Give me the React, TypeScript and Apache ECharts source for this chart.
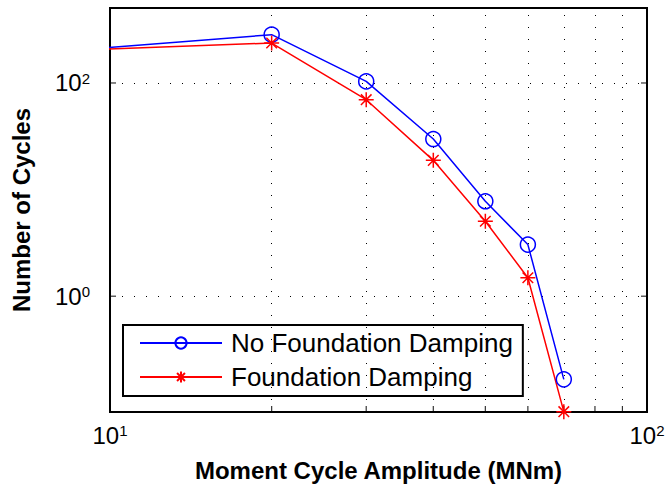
import React, { useEffect, useRef } from "react";
import * as echarts from "echarts";

// Data (log-log)
const amplitudes = [5, 20, 30, 40, 50, 60, 70];
const noFoundationDamping = [164, 284, 103.5, 29.8, 7.77, 3.05, 0.166];
const foundationDamping = [183, 237, 69.7, 18.8, 5.05, 1.49, 0.0826];
const seriesNames = ["No Foundation Damping", "Foundation Damping"];

const xMin = 10;
const xMax = 100;
const yMin = 0.082;
const yMax = 505;
const xMinorGrid = [20, 30, 40, 50, 60, 70, 80, 90];
const yMajorGrid = [1, 100];
const xLabelExponents = [1, 2];
const yLabelExponents = [0, 2];

const FONT = "'Liberation Sans', Arial, sans-serif";
const STAR =
  "path://M0,-1L0,1M-1,0L1,0M-0.707,-0.707L0.707,0.707M-0.707,0.707L0.707,-0.707";

const rich = {
  base: { fontSize: 24, fontFamily: FONT, color: "#000", lineHeight: 24, verticalAlign: "bottom" as const },
  sup: { fontSize: 15, fontFamily: FONT, color: "#000", lineHeight: 15, verticalAlign: "top" as const, padding: [0, 0, 16, 0] },
};

function powLabel(exps: number[]) {
  return (v: number) => {
    const e = Math.log10(v);
    const r = Math.round(e);
    if (Math.abs(e - r) < 1e-6 && exps.includes(r)) return `{base|10}{sup|${r}}`;
    return "";
  };
}

export default function App() {
  const ref = useRef<HTMLDivElement>(null);
  useEffect(() => {
    if (!ref.current) return;
    const chart = echarts.init(ref.current, null, { renderer: "svg" });
    const tickStyle = { color: "#000" };
    chart.setOption({
      animation: false,
      backgroundColor: "#fff",
      grid: {
        left: 110,
        top: 8,
        right: 22,
        bottom: 82,
        show: true,
        borderColor: "#000",
        borderWidth: 2,
        backgroundColor: "#fff",
      },
      legend: {
        data: seriesNames,
        orient: "vertical",
        left: 123,
        top: 325,
        itemWidth: 82,
        itemHeight: 14,
        itemGap: 8,
        padding: [5, 10, 6, 16],
        borderColor: "#000",
        borderWidth: 2,
        backgroundColor: "#fff",
        textStyle: { fontSize: 26, fontFamily: FONT, color: "#000", lineHeight: 26, padding: [0, 0, 0, 4] },
      },
      xAxis: {
        type: "log",
        logBase: 10,
        min: xMin,
        max: xMax,
        name: "Moment Cycle Amplitude (MNm)",
        nameLocation: "middle",
        nameGap: 43,
        nameTextStyle: { fontSize: 24, fontWeight: "bold", fontFamily: FONT, color: "#000" },
        axisLine: { show: false },
        axisTick: { show: false },
        splitLine: { show: false },
        axisLabel: {
          margin: 11,
          fontSize: 24,
          fontFamily: FONT,
          color: "#000",
          formatter: powLabel(xLabelExponents),
          rich,
        },
      },
      yAxis: {
        type: "log",
        logBase: 10,
        min: yMin,
        max: yMax,
        name: "Number of Cycles",
        nameLocation: "middle",
        nameGap: 77,
        nameTextStyle: { fontSize: 24, fontWeight: "bold", fontFamily: FONT, color: "#000" },
        axisLine: { show: false },
        axisTick: { show: false },
        splitLine: { show: false },
        axisLabel: {
          margin: 20,
          fontSize: 24,
          fontFamily: FONT,
          color: "#000",
          formatter: powLabel(yLabelExponents),
          rich,
        },
      },
      series: [
        {
          name: "grid",
          type: "line",
          data: [],
          silent: true,
          z: 1,
          markLine: {
            silent: true,
            symbol: "none",
            label: { show: false },
            lineStyle: { color: "#000", width: 1, type: [1, 11] },
            data: [
              ...xMinorGrid.map((x) => ({ xAxis: x })),
              ...yMajorGrid.map((y) => ({ yAxis: y })),
            ],
          },
        },
        {
          name: "xticks",
          type: "scatter",
          silent: true,
          clip: false,
          z: 3,
          symbol: "rect",
          symbolSize: [1.2, 6],
          symbolOffset: [0, -3],
          itemStyle: tickStyle,
          data: xMinorGrid.map((x) => [x, yMin]),
        },
        {
          name: "yticksLeft",
          type: "scatter",
          silent: true,
          clip: false,
          z: 3,
          symbol: "rect",
          symbolSize: [6, 1.2],
          symbolOffset: [3, 0],
          itemStyle: tickStyle,
          data: yMajorGrid.map((y) => [xMin, y]),
        },
        {
          name: "yticksRight",
          type: "scatter",
          silent: true,
          clip: false,
          z: 3,
          symbol: "rect",
          symbolSize: [6, 1.2],
          symbolOffset: [-3, 0],
          itemStyle: tickStyle,
          data: yMajorGrid.map((y) => [xMax, y]),
        },
        {
          name: seriesNames[0],
          type: "line",
          z: 5,
          data: amplitudes.map((x, i) => [x, noFoundationDamping[i]]),
          symbol: "circle",
          symbolSize: 15,
          showAllSymbol: true,
          lineStyle: { color: "#0000ff", width: 1.5 },
          itemStyle: { color: "transparent", borderColor: "#0000ff", borderWidth: 1.5 },
        },
        {
          name: seriesNames[1],
          type: "line",
          z: 5,
          data: amplitudes.map((x, i) => [x, foundationDamping[i]]),
          symbol: STAR,
          symbolSize: 15,
          showAllSymbol: true,
          lineStyle: { color: "#ff0000", width: 1.5 },
          itemStyle: { color: "transparent", borderColor: "#ff0000", borderWidth: 1.5 },
        },
      ],
    });
    return () => chart.dispose();
  }, []);
  return (
    <div
      ref={ref}
      style={{ position: "fixed", left: 0, top: 0, width: 669, height: 494, background: "#fff" }}
    />
  );
}
